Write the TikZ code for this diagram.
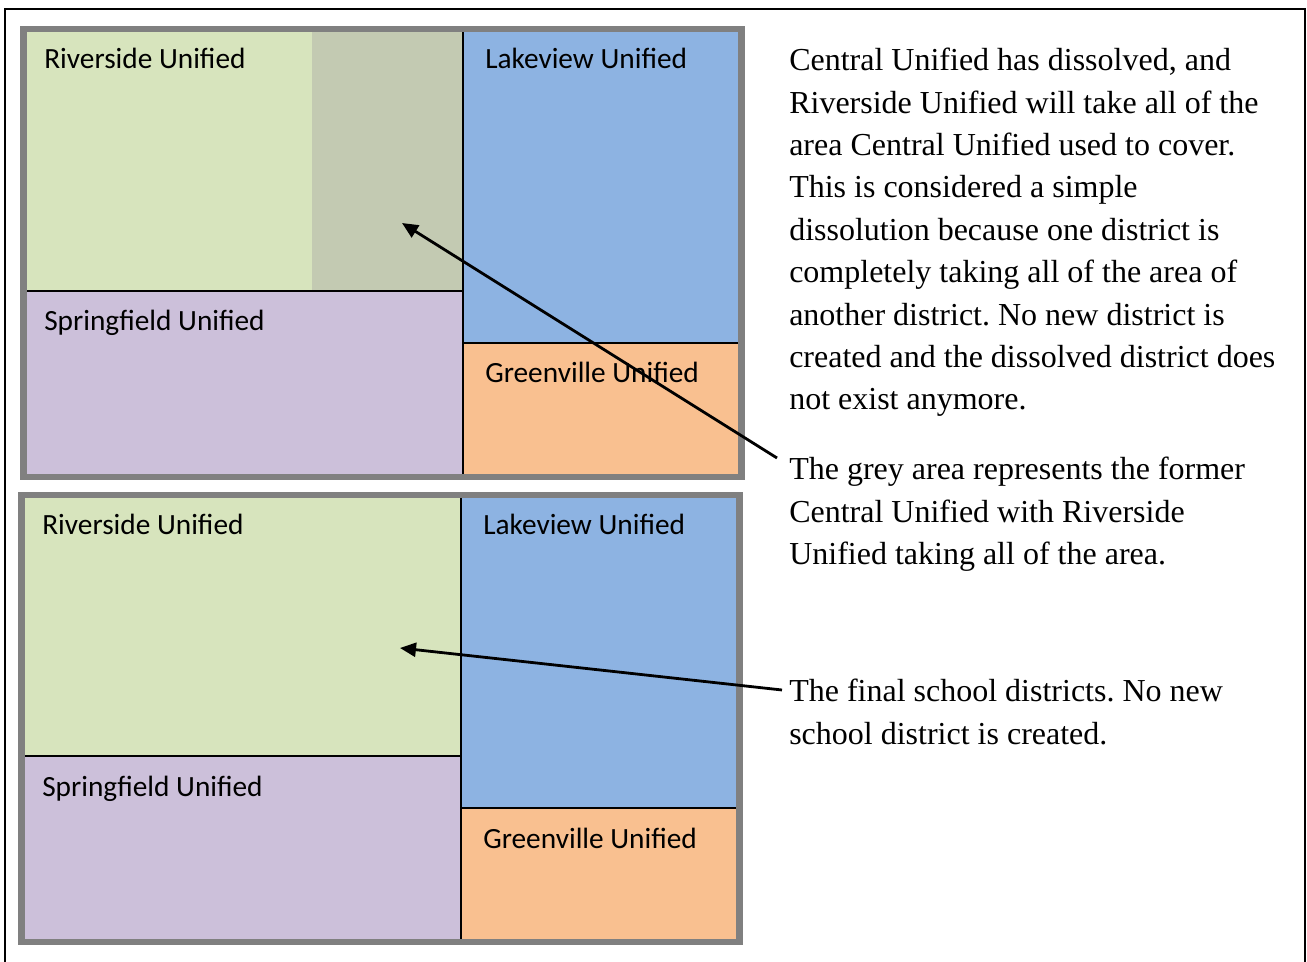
\documentclass[tikz,border=0pt]{standalone}
\usepackage{fontspec}
\setmainfont{Liberation Serif}
\newfontfamily\calfont{Carlito}
\usetikzlibrary{arrows.meta}
\definecolor{rgreen}{HTML}{D7E4BD}
\definecolor{cgrey}{HTML}{C3CAB2}
\definecolor{lblue}{HTML}{8DB3E2}
\definecolor{spurple}{HTML}{CCC0DA}
\definecolor{gorange}{HTML}{F9C090}
\definecolor{panelgray}{HTML}{808080}
\frenchspacing
\tikzset{
  divider/.style={line width=1.5pt, black},
  panelframe/.style={line width=4.9pt, panelgray},
  lbl/.style={anchor=base west, inner sep=0pt, font=\calfont\fontsize{22}{26}\selectfont},
  body/.style={anchor=base west, inner sep=0pt, align=left, font=\fontsize{24}{31.8}\selectfont},
  pointer/.style={line width=2.1pt, -{Triangle[length=12pt,width=10.5pt]}}
}
\begin{document}
\begin{tikzpicture}[x=0.75pt,y=-0.75pt]
\useasboundingbox (0,0) rectangle (1307,962);
\clip (0,0) rectangle (1307,962);
% outer frame
\draw[line width=1.5pt] (5,980) -- (5,9) -- (1305,9) -- (1305,980);
% ---------- top panel ----------
\fill[rgreen] (27,32) rectangle (312,291);
\fill[cgrey] (312,32) rectangle (463,291);
\fill[spurple] (27,291) rectangle (463,474);
\fill[lblue] (463,32) rectangle (738,343);
\fill[gorange] (463,343) rectangle (738,474);
\draw[divider] (463,32) -- (463,474);
\draw[divider] (27,291) -- (463,291);
\draw[divider] (463,343) -- (738,343);
\draw[panelframe] (23.5,29) rectangle (741.5,477);
\node[lbl] (r1) at (44,69) {Riverside Unified};
\node[lbl] (l1) at (485,69) {Lakeview Unified};
\node[lbl] (s1) at (44,331) {Springfield Unified};
\node[lbl] (g1) at (485,383) {Greenville Unified};
% ---------- bottom panel ----------
\fill[rgreen] (25,498) rectangle (461,756);
\fill[spurple] (25,756) rectangle (461,939);
\fill[lblue] (461,498) rectangle (736,808);
\fill[gorange] (461,808) rectangle (736,939);
\draw[divider] (461,498) -- (461,939);
\draw[divider] (25,756) -- (461,756);
\draw[divider] (461,808) -- (736,808);
\draw[panelframe] (21.5,495) rectangle (739.5,942);
\node[lbl] (r2) at (42,534) {Riverside Unified};
\node[lbl] (l2) at (483,534) {Lakeview Unified};
\node[lbl] (s2) at (42,796) {Springfield Unified};
\node[lbl] (g2) at (483,848) {Greenville Unified};
% ---------- right-hand text (base = last line) ----------
\node[body] (txtA) at (789,410) {Central Unified has dissolved, and\\
Riverside Unified will take all of the\\
area Central Unified used to cover.\\
This is considered a simple\\
dissolution because one district is\\
completely taking all of the area of\\
another district. No new district is\\
created and the dissolved district does\\
not exist anymore.};
\node[body] (txtB) at (789,564.5) {The grey area represents the former\\
Central Unified with Riverside\\
Unified taking all of the area.};
\node[body] (txtC) at (789,744) {The final school districts. No new\\
school district is created.};
% ---------- arrows ----------
\coordinate (a1s) at (777,458);
\coordinate (a1e) at (402,223);
\coordinate (a2s) at (782,690);
\coordinate (a2e) at (400,648);
\draw[pointer] (a1s) -- (a1e);
\draw[pointer] (a2s) -- (a2e);
\end{tikzpicture}
\end{document}
